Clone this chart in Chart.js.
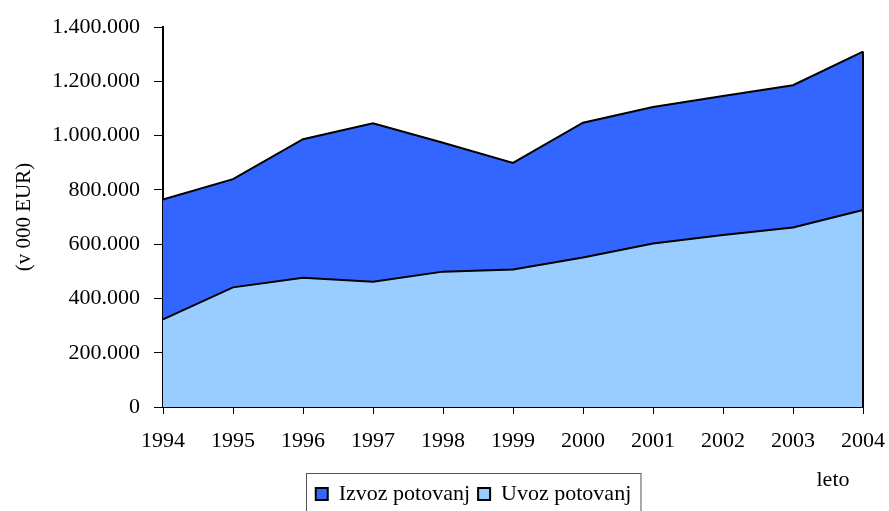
<!DOCTYPE html>
<html>
<head>
<meta charset="utf-8">
<script src="https://cdn.jsdelivr.net/npm/chart.js@4"></script>
<style>
  body { margin: 0; background: white; }
  #okvir { width: 889px; height: 511px; position: relative; }
</style>
</head>
<body>
<div id="okvir"><canvas id="grafTurizem"></canvas></div>
<script>
// leta in vrednosti (v 000 EUR), prebrano s slike
const leta = ['1994', '1995', '1996', '1997', '1998', '1999', '2000', '2001', '2002', '2003', '2004'];
const uvoz = [323000, 441000, 476000, 462000, 499000, 507000, 551000, 603000, 634000, 662000, 726000];
const izvoz = [442000, 399000, 511000, 584000, 475000, 393000, 497000, 503000, 512000, 524000, 584000];
const yTicks = [0, 200000, 400000, 600000, 800000, 1000000, 1200000, 1400000];

const pisava = 'Liberation Serif';

function piki(v) {
    return String(v).replace(/\B(?=(\d{3})+(?!\d))/g, '.');
}

// okvir okoli legende, napis "leto" in desni rob ploskve
const dodatki = {
    id: 'dodatki',
    afterLayout(chart) {
        // legenda je na sliki malo desno od sredine in nizje
        chart.legend.left += 36;
        chart.legend.right += 36;
        chart.legend.top += 4;
        chart.legend.bottom += 4;
    },
    afterDatasetsDraw(chart) {
        const ctx = chart.ctx;
        const x = chart.scales.x;
        const y = chart.scales.y;
        const zadnji = leta.length - 1;
        const px = x.getPixelForValue(zadnji);
        ctx.save();
        ctx.strokeStyle = 'black';
        ctx.lineWidth = 2;
        ctx.beginPath();
        ctx.moveTo(px, y.getPixelForValue(0));
        ctx.lineTo(px, y.getPixelForValue(uvoz[zadnji] + izvoz[zadnji]));
        ctx.stroke();
        ctx.restore();
    },
    afterDraw(chart) {
        const ctx = chart.ctx;
        const ca = chart.chartArea;
        ctx.save();
        ctx.fillStyle = 'black';
        ctx.font = '22px "' + pisava + '"';
        ctx.textAlign = 'center';
        ctx.textBaseline = 'middle';
        ctx.fillText('leto', ca.right - 30, ca.bottom + 73);

        const boxes = chart.legend.legendHitBoxes;
        if (boxes && boxes.length) {
            let l = Infinity, r = -Infinity, t = Infinity, b = -Infinity;
            boxes.forEach(function (h) {
                l = Math.min(l, h.left); r = Math.max(r, h.left + h.width);
                t = Math.min(t, h.top); b = Math.max(b, h.top + h.height);
            });
            ctx.strokeStyle = '#555';
            ctx.lineWidth = 1;
            ctx.strokeRect(Math.round(l) - 9.5, Math.round(t) - 9.5, (r - l) + 19, (b - t) + 30);
        }
        ctx.restore();
    }
};

const data = {
    labels: leta,
    datasets: [{
        label: 'Uvoz potovanj',
        data: uvoz,
        backgroundColor: '#99CCFF',
        borderColor: 'black',
        borderWidth: 2,
        fill: 'origin',
        pointRadius: 0,
        tension: 0
    }, {
        label: 'Izvoz potovanj',
        data: izvoz,
        backgroundColor: '#3366FF',
        borderColor: 'black',
        borderWidth: 2,
        fill: '-1',
        pointRadius: 0,
        tension: 0
    }]
};

const config = {
    type: 'line',
    data: data,
    options: {
        responsive: true,
        maintainAspectRatio: false,
        animation: false,
        layout: { padding: { top: 27, right: 26, left: 12, bottom: 0 } },
        plugins: {
            tooltip: { enabled: false },
            legend: {
                position: 'bottom',
                labels: {
                    color: 'black',
                    font: { family: pisava, size: 22 },
                    boxWidth: 12,
                    boxHeight: 12,
                    padding: 8,
                    sort: function (a, b) { return b.datasetIndex - a.datasetIndex; }
                }
            }
        },
        scales: {
            x: {
                offset: false,
                grid: { offset: false, drawOnChartArea: false, drawTicks: true, tickLength: 7, color: 'black', lineWidth: 1 },
                border: { color: 'black', width: 2 },
                ticks: { color: 'black', font: { family: pisava, size: 22 }, padding: 14, maxRotation: 0, autoSkip: false },
                afterFit: function (s) { s.height = 64; s.paddingLeft = 0; s.paddingRight = 0; }
            },
            y: {
                stacked: true,
                min: 0,
                max: 1400000,
                afterBuildTicks: function (s) { s.ticks = yTicks.map(function (v) { return { value: v }; }); },
                grid: { drawOnChartArea: false, drawTicks: true, tickLength: 9, color: 'black', lineWidth: 1 },
                border: { color: 'black', width: 2 },
                ticks: { color: 'black', font: { family: pisava, size: 22 }, padding: 14, callback: function (v) { return piki(v); } },
                title: { display: true, text: '(v 000 EUR)', color: 'black', font: { family: pisava, size: 21 }, padding: { top: 0, bottom: 4 } },
                afterFit: function (s) { s.width = 151; }
            }
        }
    },
    plugins: [dodatki]
};

const graf = new Chart(document.getElementById('grafTurizem').getContext('2d'), config);
</script>
</body>
</html>
